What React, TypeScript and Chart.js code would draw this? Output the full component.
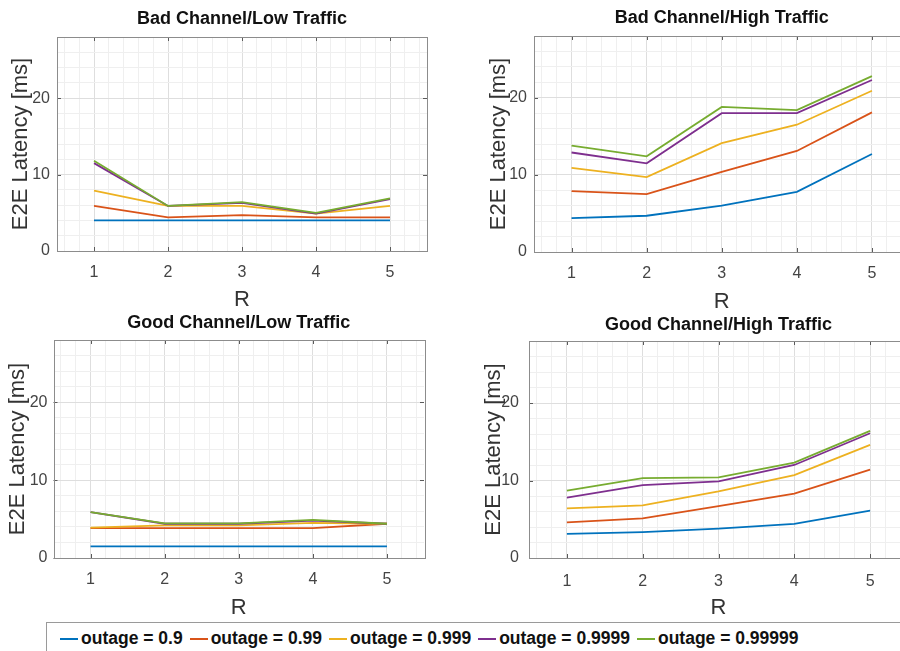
import React, { useEffect, useRef } from 'react';
import { Chart, registerables } from 'chart.js';

Chart.register(...registerables);

const FONT = "'Liberation Sans', Arial, Helvetica, sans-serif";

// ---- data ----
const R = [1, 2, 3, 4, 5];
const OUTAGES = ['outage = 0.9', 'outage = 0.99', 'outage = 0.999', 'outage = 0.9999', 'outage = 0.99999'];
const COLORS = ['#0072BD', '#D95319', '#EDB120', '#7E2F8E', '#77AC30'];
const X_TICK_LABELS = [1, 2, 3, 4, 5];
const Y_TICK_LABELS = [0, 10, 20];
const X_MIN = 0.5;
const X_MAX = 5.5;
const X_MINOR_STEP = 0.2;
const Y_MIN = 0;
const Y_MAX = 28;
const Y_MINOR_STEP = 2;

const badLowTraffic = [
  [4.0, 4.0, 4.0, 4.0, 4.0],
  [5.9, 4.4, 4.7, 4.4, 4.4],
  [7.9, 5.9, 5.9, 4.9, 5.9],
  [11.5, 5.9, 6.3, 4.9, 6.8],
  [11.8, 5.9, 6.4, 5.0, 6.9],
];
const badHighTraffic = [
  [4.4, 4.7, 6.0, 7.8, 12.7],
  [7.9, 7.5, 10.4, 13.1, 18.1],
  [10.9, 9.7, 14.1, 16.5, 20.9],
  [12.9, 11.5, 18.0, 18.0, 22.3],
  [13.8, 12.4, 18.8, 18.4, 22.8],
];
const goodLowTraffic = [
  [1.5, 1.5, 1.5, 1.5, 1.5],
  [3.85, 3.85, 3.85, 3.85, 4.4],
  [3.9, 4.2, 4.2, 4.5, 4.4],
  [5.9, 4.4, 4.4, 4.8, 4.4],
  [5.9, 4.45, 4.45, 4.9, 4.4],
];
const goodHighTraffic = [
  [3.1, 3.35, 3.8, 4.4, 6.1],
  [4.6, 5.1, 6.7, 8.3, 11.4],
  [6.4, 6.8, 8.6, 10.7, 14.6],
  [7.8, 9.4, 9.9, 12.0, 16.1],
  [8.7, 10.3, 10.4, 12.3, 16.4],
];

// ---- layout ----
type Panel = {
  key: string;
  title: string;
  series: number[][];
  left: number; top: number; w: number; h: number;
  padRight: number;
  titlePad: [number, number];
  yWidth: number; yTitlePad: number; yTickPad: number;
  xHeight: number; xTickPad: number; xTitlePad: number;
};

const PANELS: Panel[] = [
  { key: 'bl', title: 'Bad Channel/Low Traffic', series: badLowTraffic,
    left: 0, top: 0, w: 450, h: 320, padRight: 23, titlePad: [8.7, 6.7],
    yWidth: 57, yTitlePad: 7.5, yTickPad: 7, xHeight: 69, xTickPad: 11.5, xTitlePad: 6.8 },
  { key: 'bh', title: 'Bad Channel/High Traffic', series: badHighTraffic,
    left: 450, top: 0, w: 470, h: 320, padRight: 10.5, titlePad: [7.5, 6.9],
    yWidth: 84, yTitlePad: 35.3, yTickPad: 7, xHeight: 68, xTickPad: 11.5, xTitlePad: 4.8 },
  { key: 'gl', title: 'Good Channel/Low Traffic', series: goodLowTraffic,
    left: 0, top: 305, w: 450, h: 320, padRight: 26, titlePad: [7.5, 5.9],
    yWidth: 53.5, yTitlePad: 4.5, yTickPad: 6, xHeight: 67, xTickPad: 12, xTitlePad: 4.1 },
  { key: 'gh', title: 'Good Channel/High Traffic', series: goodHighTraffic,
    left: 450, top: 305, w: 470, h: 320, padRight: 12, titlePad: [9.2, 5.2],
    yWidth: 79, yTitlePad: 30.3, yTickPad: 10, xHeight: 67, xTickPad: 13.8, xTitlePad: 3.5 },
];

// grid line positions at multiples of the minor step inside [min, max]
function gridValues(min: number, max: number, step: number): number[] {
  const out: number[] = [];
  const first = Math.ceil(min / step - 1e-9);
  const last = Math.floor(max / step + 1e-9);
  for (let k = first; k <= last; k++) out.push(Math.round(k * step * 1000) / 1000);
  return out;
}

const isIn = (list: number[], v: number) => list.some((t) => Math.abs(t - v) < 1e-6);

const MAJOR_GRID = '#dedede';
const MINOR_GRID = '#efefef';

const boxPlugin = {
  id: 'matlabBox',
  afterDraw(chart: any) {
    const { ctx, chartArea, scales } = chart;
    const { left, right, top, bottom } = chartArea;
    const x = scales.x;
    const y = scales.y;
    ctx.save();
    ctx.lineWidth = 1;
    ctx.strokeStyle = '#5a5a5a';
    ctx.beginPath();
    X_TICK_LABELS.forEach((v) => {
      const px = Math.round(x.getPixelForValue(v)) + 0.5;
      ctx.moveTo(px, bottom);
      ctx.lineTo(px, bottom - 4);
      ctx.moveTo(px, top);
      ctx.lineTo(px, top + 4);
    });
    Y_TICK_LABELS.forEach((v) => {
      const py = Math.round(y.getPixelForValue(v)) + 0.5;
      ctx.moveTo(left, py);
      ctx.lineTo(left + 4, py);
      ctx.moveTo(right, py);
      ctx.lineTo(right - 4, py);
    });
    ctx.stroke();
    ctx.strokeStyle = '#8c8c8c';
    ctx.strokeRect(Math.round(left) + 0.5, Math.round(top) + 0.5, Math.round(right - left), Math.round(bottom - top));
    ctx.restore();
  },
};

function PanelChart({ p }: { p: Panel }) {
  const ref = useRef<HTMLCanvasElement>(null);
  useEffect(() => {
    const xGrid = gridValues(X_MIN, X_MAX, X_MINOR_STEP).filter((v) => v > X_MIN && v < X_MAX);
    const yGrid = gridValues(Y_MIN, Y_MAX, Y_MINOR_STEP);
    const chart = new Chart(ref.current as HTMLCanvasElement, {
      type: 'line',
      data: {
        datasets: p.series.map((vals, i) => ({
          label: OUTAGES[i],
          data: R.map((r, j) => ({ x: r, y: vals[j] })),
          borderColor: COLORS[i],
          backgroundColor: COLORS[i],
          borderWidth: 1.8,
          pointRadius: 0,
          tension: 0,
          order: OUTAGES.length - i,
        })),
      },
      options: {
        responsive: false,
        animation: false,
        events: [],
        layout: { padding: { left: 0, top: 0, right: p.padRight, bottom: 0 } },
        plugins: {
          legend: { display: false },
          tooltip: { enabled: false },
          title: {
            display: true,
            text: p.title,
            fullSize: false,
            color: '#111',
            font: { family: FONT, size: 18, weight: 'bold' },
            padding: { top: p.titlePad[0], bottom: p.titlePad[1] },
          },
        },
        scales: {
          x: {
            type: 'linear',
            min: X_MIN,
            max: X_MAX,
            afterBuildTicks: (s: any) => { s.ticks = xGrid.map((v) => ({ value: v })); },
            afterFit: (s: any) => { s.height = p.xHeight; },
            ticks: {
              autoSkip: false,
              maxRotation: 0,
              padding: p.xTickPad,
              color: '#444',
              font: { family: FONT, size: 16 },
              callback: (v: any) => (isIn(X_TICK_LABELS, Number(v)) ? String(Math.round(Number(v))) : ''),
            },
            grid: {
              drawTicks: false,
              color: (c: any) => (c.tick && isIn(X_TICK_LABELS, c.tick.value) ? MAJOR_GRID : MINOR_GRID),
            },
            border: { display: false },
            title: {
              display: true,
              text: 'R',
              color: '#333',
              font: { family: FONT, size: 22 },
              padding: { top: 0, bottom: p.xTitlePad },
            },
          },
          y: {
            type: 'linear',
            min: Y_MIN,
            max: Y_MAX,
            afterBuildTicks: (s: any) => { s.ticks = yGrid.map((v) => ({ value: v })); },
            afterFit: (s: any) => { s.width = p.yWidth; },
            ticks: {
              autoSkip: false,
              padding: p.yTickPad,
              color: '#444',
              font: { family: FONT, size: 16 },
              callback: (v: any) => (isIn(Y_TICK_LABELS, Number(v)) ? String(Math.round(Number(v))) : ''),
            },
            grid: {
              drawTicks: false,
              color: (c: any) => (c.tick && isIn(Y_TICK_LABELS, c.tick.value) ? MAJOR_GRID : MINOR_GRID),
            },
            border: { display: false },
            title: {
              display: true,
              text: 'E2E Latency [ms]',
              color: '#333',
              font: { family: FONT, size: 22 },
              padding: { top: p.yTitlePad, bottom: 0 },
            },
          },
        },
      } as any,
      plugins: [boxPlugin],
    });
    return () => chart.destroy();
  }, [p]);
  return (
    <canvas
      ref={ref}
      width={p.w}
      height={p.h}
      style={{ position: 'absolute', left: p.left, top: p.top, width: p.w, height: p.h }}
    />
  );
}

function Legend() {
  return (
    <div
      style={{
        position: 'absolute', left: 46, top: 622, width: 900, height: 50,
        border: '1px solid #9a9a9a', boxSizing: 'border-box', background: '#fff',
      }}
    >
      <div
        style={{
          display: 'flex', alignItems: 'center', height: 31, paddingLeft: 13,
          fontFamily: FONT, fontWeight: 'bold', fontSize: 17.5, color: '#111', whiteSpace: 'nowrap',
        }}
      >
        {OUTAGES.map((o, i) => (
          <div key={o} style={{ display: 'flex', alignItems: 'center', marginRight: 7 }}>
            <span style={{ display: 'inline-block', width: 18, height: 2, background: COLORS[i], marginRight: 3 }} />
            <span>{o}</span>
          </div>
        ))}
      </div>
    </div>
  );
}

export default function App() {
  return (
    <div
      style={{
        position: 'absolute', left: 0, top: 0, width: 900, height: 651,
        overflow: 'hidden', background: '#fff',
      }}
    >
      {PANELS.map((p) => (
        <PanelChart key={p.key} p={p} />
      ))}
      <Legend />
    </div>
  );
}
